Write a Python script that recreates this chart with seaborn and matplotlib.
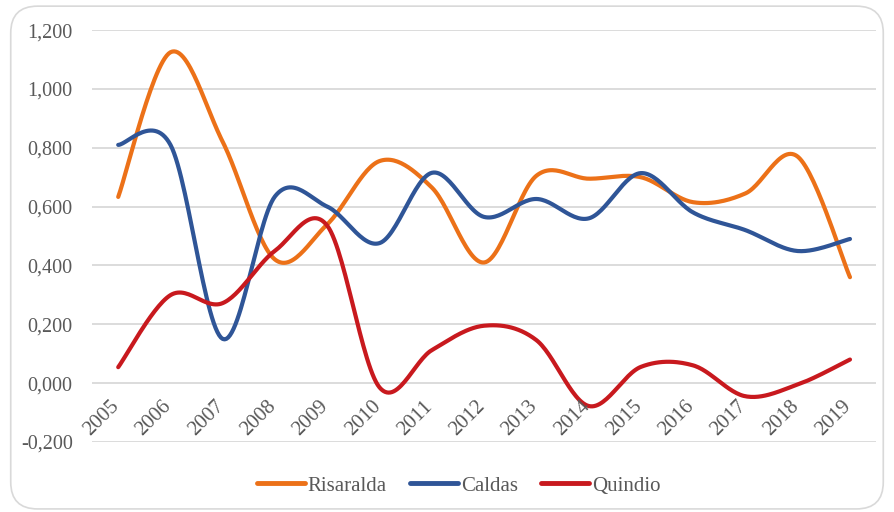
import numpy as np
import matplotlib
matplotlib.use("Agg")
import matplotlib.pyplot as plt
import matplotlib.transforms as mtransforms
from matplotlib.patches import FancyBboxPatch
import seaborn as sns
import pandas as pd

years = [str(y) for y in range(2005, 2020)]
risaralda = [0.633, 1.125, 0.820, 0.420, 0.540, 0.755, 0.665, 0.410, 0.705, 0.695,
             0.700, 0.615, 0.645, 0.770, 0.360]
caldas = [0.810, 0.810, 0.150, 0.635, 0.600, 0.476, 0.715, 0.565, 0.626, 0.560,
          0.714, 0.580, 0.520, 0.449, 0.490]
quindio = [0.054, 0.299, 0.272, 0.450, 0.535, -0.015, 0.112, 0.195, 0.146, -0.078,
           0.055, 0.060, -0.045, -0.005, 0.080]
yticks = [-0.2, 0.0, 0.2, 0.4, 0.6, 0.8, 1.0, 1.2]

series = {"Risaralda": risaralda, "Caldas": caldas, "Quindio": quindio}
colors = {"Risaralda": "#EC7118", "Caldas": "#2F5597", "Quindio": "#C8191E"}


def smooth(y, n=30):
    # Excel-style smoothed line: cubic bezier with catmull-rom control points
    y = np.asarray(y, dtype=float)
    x = np.arange(len(y), dtype=float)
    px = np.concatenate([[x[0]], x, [x[-1]]])
    py = np.concatenate([[y[0]], y, [y[-1]]])
    xs, ys = [], []
    t = np.linspace(0, 1, n)
    for i in range(len(y) - 1):
        p0 = np.array([px[i + 1], py[i + 1]])
        p3 = np.array([px[i + 2], py[i + 2]])
        c1 = p0 + (np.array([px[i + 2], py[i + 2]]) - np.array([px[i], py[i]])) / 6
        c2 = p3 - (np.array([px[i + 3], py[i + 3]]) - np.array([px[i + 1], py[i + 1]])) / 6
        b = ((1 - t) ** 3)[:, None] * p0 + (3 * (1 - t) ** 2 * t)[:, None] * c1 \
            + (3 * (1 - t) * t ** 2)[:, None] * c2 + (t ** 3)[:, None] * p3
        xs.append(b[:, 0])
        ys.append(b[:, 1])
    return np.concatenate(xs), np.concatenate(ys)


sns.set_theme(style="white")
plt.rcParams["font.family"] = ["Liberation Serif", "DejaVu Serif"]

fig = plt.figure(figsize=(8.94, 5.12), dpi=100)
ax = fig.add_axes([0.103, 0.137, 0.877, 0.804])

rows = []
for name, vals in series.items():
    sx, sy = smooth(vals)
    rows.append(pd.DataFrame({"x": sx, "y": sy, "serie": name}))
df = pd.concat(rows, ignore_index=True)

sns.lineplot(data=df, x="x", y="y", hue="serie", palette=colors, sort=False,
             estimator=None, linewidth=3, ax=ax, legend=False,
             solid_capstyle="round")

ax.set_xlim(-0.5, len(years) - 0.5)
ax.set_ylim(-0.2, 1.2)
ax.set_yticks(yticks)
ax.set_yticklabels([f"{v:.3f}".replace(".", ",") for v in yticks],
                   fontsize=14.5, color="#595959")
ax.tick_params(axis="y", length=0, pad=14)
ax.set_xticks([])
ax.set_xlabel("")
ax.set_ylabel("")
ax.grid(axis="y", color="#D9D9D9", linewidth=1.3)
ax.set_axisbelow(True)
for s in ax.spines.values():
    s.set_visible(False)

off = mtransforms.offset_copy(ax.transData, fig=fig, x=5, y=-14, units="dots")
for i, yr in enumerate(years):
    ax.text(i, 0, yr, rotation=45, ha="right", va="top", fontsize=15,
            color="#595959", transform=off)

handles = [plt.Line2D([], [], color=colors[n], linewidth=3.5, solid_capstyle="round")
           for n in series]
fig.legend(handles, list(series.keys()), loc="center", bbox_to_anchor=(0.513, 0.051),
           ncol=3, frameon=False, fontsize=15, handlelength=2.3, handletextpad=0.15,
           columnspacing=1.1, labelcolor="#595959")

border = FancyBboxPatch((0.012, 0.006), 0.976, 0.982, boxstyle="round,pad=0,rounding_size=0.03",
                        transform=fig.transFigure, facecolor="none", edgecolor="#D9D9D9",
                        linewidth=1.2, mutation_aspect=894 / 512)
fig.patches.append(border)

fig.savefig("out.png", dpi=100)
